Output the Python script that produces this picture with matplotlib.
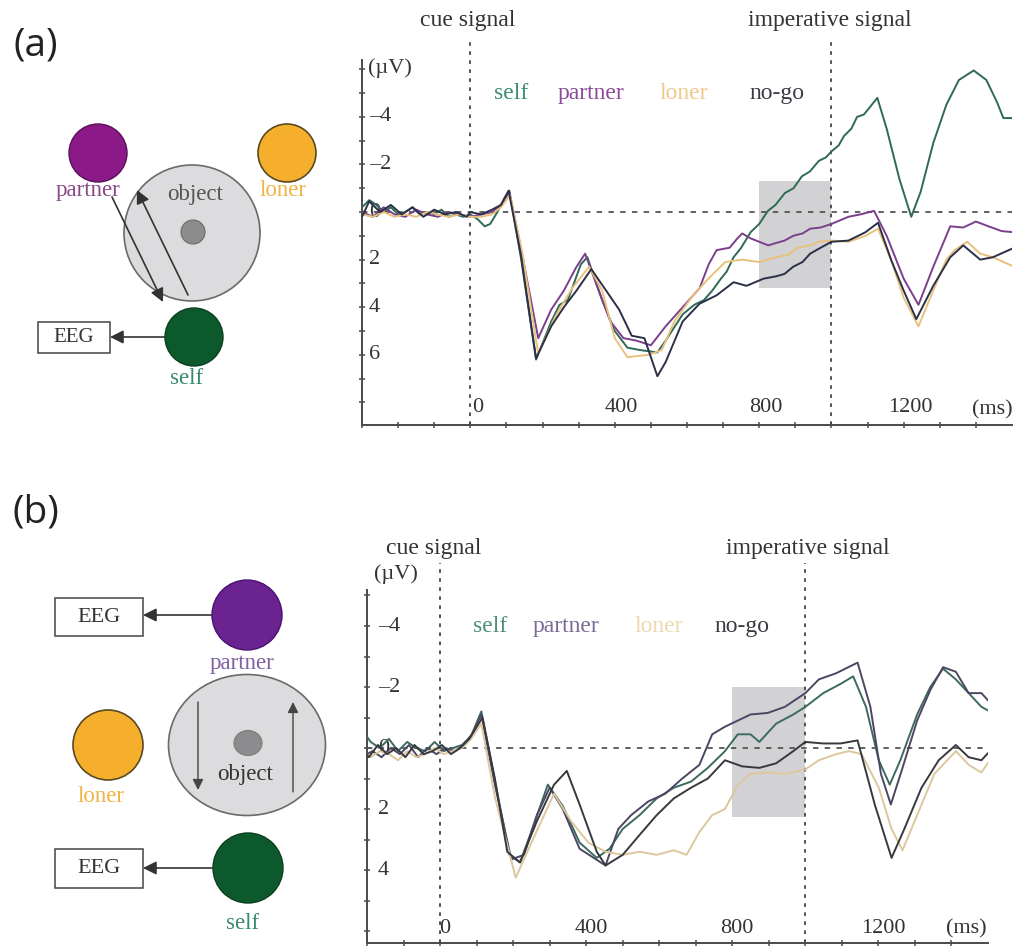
import matplotlib
matplotlib.use("Agg")
import matplotlib.pyplot as plt
import matplotlib.transforms as mtransforms
from matplotlib.patches import Circle, Ellipse, Rectangle

# ---------------- data : panel (a) ----------------
a_self_t = [-300, -280, -260, -240, -220, -200, -180, -160, -140, -120, -100, -80, -60, -40, -20, 0, 20, 40, 55, 75, 95, 108,
            141, 182, 224, 247, 270, 306, 324, 365, 400, 435, 470, 518, 541, 588, 620, 647, 670, 694, 710, 729, 750, 776, 800,
            824, 845, 871, 895, 918, 940, 965, 985, 1000, 1020, 1035, 1055, 1071, 1090, 1106, 1127, 1153, 1188, 1221, 1247,
            1282, 1318, 1353, 1394, 1429, 1459, 1476, 1506]
a_self_v = [-0.2, -0.5, -0.3, 0.0, -0.2, 0.1, 0.0, -0.2, 0.1, 0.0, 0.1, -0.1, 0.2, 0.1, 0.2, 0.1, 0.3, 0.6, 0.5, 0.0, -0.6, -0.9,
            2.0, 6.2, 4.6, 3.9, 3.7, 2.2, 1.9, 3.7, 5.0, 5.7, 5.8, 5.9, 5.4, 4.3, 3.9, 3.7, 3.3, 2.8, 2.5, 1.9, 1.5, 0.85, 0.5,
            -0.05, -0.3, -0.8, -1.0, -1.5, -1.7, -2.15, -2.3, -2.55, -2.8, -3.2, -3.5, -4.0, -4.1, -4.4, -4.8, -3.5, -1.4, 0.2, -0.85,
            -2.9, -4.5, -5.55, -5.95, -5.55, -4.6, -3.95, -3.95]

a_partner_t = [-300, -270, -240, -210, -180, -150, -120, -90, -60, -30, 0, 30, 60, 85, 108, 140, 188, 224, 259, 294, 318, 353,
               388, 424, 459, 500, 541, 588, 635, 660, 682, 718, 740, 753, 775, 800, 825, 847, 870, 894, 920, 941, 970, 1000,
               1047, 1080, 1118, 1153, 1200, 1241, 1282, 1329, 1365, 1400, 1435, 1471, 1506]
a_partner_v = [0.0, 0.2, -0.2, 0.1, 0.2, -0.1, 0.1, 0.2, 0.0, 0.1, 0.2, 0.1, 0.0, -0.3, -0.85, 1.5, 5.3, 4.1, 3.3, 2.3, 1.75, 3.2,
               4.6, 5.3, 5.4, 5.6, 4.8, 4.0, 3.2, 2.2, 1.6, 1.5, 1.1, 0.9, 1.1, 1.25, 1.4, 1.3, 1.2, 1.0, 0.9, 0.7, 0.65, 0.5,
               0.2, 0.1, -0.05, 1.0, 2.8, 3.9, 2.3, 0.6, 0.65, 0.4, 0.6, 0.8, 0.85]

a_loner_t = [-300, -270, -240, -210, -180, -150, -120, -90, -60, -30, 0, 30, 60, 85, 110, 145, 188, 235, 282, 329, 365, 400,
             435, 494, 530, 565, 612, 659, 706, 753, 800, 847, 880, 906, 940, 965, 1000, 1047, 1094, 1129, 1165, 1200, 1241,
             1282, 1318, 1341, 1376, 1412, 1447, 1506]
a_loner_v = [0.1, 0.2, 0.0, 0.2, 0.1, 0.2, 0.0, 0.1, 0.2, 0.1, 0.2, 0.2, 0.1, -0.2, -0.7, 1.8, 5.95, 4.4, 3.2, 2.3, 3.3, 5.3,
             6.1, 6.0, 5.8, 4.6, 3.6, 2.8, 2.1, 2.0, 2.1, 1.9, 1.8, 1.5, 1.4, 1.25, 1.2, 1.25, 1.0, 0.7, 2.0, 3.6, 4.8,
             3.3, 2.0, 1.6, 1.25, 1.75, 1.9, 2.3]

a_nogo_t = [-300, -280, -250, -220, -190, -160, -130, -100, -70, -40, -10, 0, 30, 60, 85, 106, 140, 182, 224, 259, 294, 335,
            376, 412, 447, 482, 518, 541, 588, 635, 682, 729, 765, 812, 847, 870, 894, 920, 941, 970, 1000, 1047, 1094, 1129,
            1165, 1200, 1235, 1282, 1329, 1365, 1412, 1447, 1506]
a_nogo_v = [0.2, -0.45, 0.0, -0.3, 0.1, -0.2, 0.2, -0.1, 0.1, 0.0, 0.2, 0.0, 0.1, -0.1, -0.3, -0.9, 1.8, 6.15, 4.8, 4.0, 3.3, 2.4,
            3.3, 4.1, 5.2, 5.3, 6.9, 6.3, 4.6, 3.85, 3.5, 2.95, 3.1, 2.8, 2.7, 2.6, 2.3, 2.1, 1.75, 1.5, 1.25, 1.2, 0.85, 0.45,
            2.0, 3.3, 4.5, 3.1, 1.9, 1.4, 2.0, 1.9, 1.5]

a_box = [800, 1000, -1.3, 3.2]

# ---------------- data : panel (b) ----------------
b_self_t = [-214, -190, -165, -140, -115, -90, -65, -40, -15, 10, 35, 60, 85, 113, 154, 190, 219, 254, 295, 336, 382, 429,
            464, 500, 546, 593, 640, 687, 733, 780, 815, 850, 874, 920, 967, 1000, 1049, 1096, 1131, 1166, 1201, 1231,
            1260, 1306, 1342, 1377, 1412, 1447, 1482, 1505]
b_self_v = [-0.6, -0.2, 0.0, -0.3, 0.1, -0.2, 0.0, 0.1, -0.2, 0.1, 0.0, -0.1, -0.4, -1.2, 1.3, 3.5, 3.75, 2.6, 1.2, 1.9, 3.1, 3.6,
            3.3, 2.65, 2.2, 1.65, 1.3, 1.1, 0.65, 0.1, -0.45, -0.45, -0.2, -0.8, -1.1, -1.35, -1.8, -2.1, -2.35, -1.35, 0.4, 1.2,
            0.4, -1.1, -2.0, -2.6, -2.25, -1.8, -1.35, -1.2]

b_partner_t = [-214, -185, -160, -135, -110, -85, -60, -35, -10, 15, 40, 65, 90, 113, 150, 195, 230, 265, 300, 336, 382, 453,
               488, 523, 570, 616, 663, 710, 745, 780, 815, 850, 897, 944, 1000, 1037, 1084, 1143, 1178, 1207, 1234, 1266,
               1306, 1342, 1377, 1412, 1447, 1482, 1505]
b_partner_v = [0.3, 0.1, 0.3, 0.0, 0.2, -0.1, 0.3, 0.0, 0.2, 0.0, 0.1, -0.1, -0.5, -1.1, 1.2, 3.65, 3.5, 2.2, 1.3, 2.0, 3.3, 3.85,
               2.65, 2.2, 1.75, 1.5, 1.0, 0.55, -0.45, -0.7, -0.9, -1.1, -1.15, -1.35, -1.8, -2.25, -2.45, -2.8, -1.35, 0.85, 1.85,
               0.65, -0.9, -1.9, -2.65, -2.5, -1.8, -1.8, -1.5]

b_loner_t = [-214, -190, -165, -140, -115, -90, -65, -40, -15, 10, 35, 60, 85, 113, 150, 207, 254, 312, 359, 406, 453, 500,
             546, 593, 640, 675, 710, 745, 780, 815, 850, 897, 944, 1000, 1037, 1084, 1119, 1154, 1201, 1236, 1266, 1306,
             1353, 1412, 1447, 1482, 1505]
b_loner_v = [0.1, 0.3, 0.1, 0.2, 0.4, 0.1, 0.3, 0.2, 0.0, 0.2, 0.1, 0.0, -0.3, -0.8, 1.6, 4.25, 3.0, 1.5, 2.4, 3.1, 3.4, 3.5,
             3.4, 3.5, 3.35, 3.5, 2.75, 2.2, 2.0, 1.2, 0.85, 0.8, 0.85, 0.7, 0.4, 0.2, 0.1, 0.2, 1.3, 2.65, 3.35, 2.2,
             0.85, 0.1, 0.55, 0.8, 0.4]

b_nogo_t = [-214, -195, -170, -145, -120, -95, -70, -45, -20, 5, 30, 55, 80, 116, 150, 184, 219, 265, 312, 347, 382, 429,
            453, 500, 546, 593, 640, 687, 733, 780, 827, 874, 920, 967, 1000, 1049, 1096, 1143, 1190, 1236, 1271, 1318,
            1365, 1412, 1447, 1482, 1505]
b_nogo_v = [0.0, 0.3, -0.1, 0.2, 0.0, 0.3, -0.1, 0.2, 0.1, -0.1, 0.2, 0.0, -0.3, -1.0, 1.0, 3.4, 3.75, 2.4, 1.2, 0.75, 1.85, 3.4,
            3.85, 3.5, 2.85, 2.2, 1.65, 1.3, 1.0, 0.4, 0.6, 0.65, 0.5, 0.1, -0.2, -0.15, -0.15, -0.25, 1.85, 3.6, 2.65, 1.3,
            0.4, -0.1, 0.3, 0.4, 0.1]

b_box = [800, 1000, -2.0, 2.25]

series_names = ["self", "partner", "loner", "no-go"]
x_tick_labels = [0, 400, 800, 1200]
cue_ms, imperative_ms = 0, 1000

# ---------------- styling ----------------
SERIF = ["Liberation Serif", "DejaVu Serif"]
a_colors = ["#2e6a55", "#7b3f8c", "#e8c27c", "#2b3048"]
a_text_colors = ["#3d8c73", "#8b4a98", "#f0c88a", "#3b3b45"]
b_colors = ["#3c6a5e", "#4d4663", "#dcc79e", "#38383f"]
b_text_colors = ["#4f8f78", "#7a6a95", "#eed8ae", "#3a3a40"]
AXC = "#4a4a4a"

fig = plt.figure(figsize=(10.18, 9.47), dpi=100)

# pixel-space overlay for diagrams and annotation text
axd = fig.add_axes([0, 0, 1, 1], zorder=0)
axd.set_xlim(0, 1018)
axd.set_ylim(947, 0)
axd.axis("off")


def style_plot(ax, xlim, ylim, yticks_lab, ytick_minor, xticks, xoff_px, yoff_px, ylab_px):
    ax.set_xlim(*xlim)
    ax.set_ylim(*ylim)
    ax.patch.set_alpha(0)
    for s in ["top", "right"]:
        ax.spines[s].set_visible(False)
    for s in ["left", "bottom"]:
        ax.spines[s].set_color(AXC)
        ax.spines[s].set_linewidth(1.4)
    ax.set_yticks(ytick_minor)
    ax.set_xticks(xticks)
    ax.tick_params(axis="both", direction="inout", length=5, width=1.1, color=AXC,
                   labelleft=False, labelbottom=False)
    # inside tick labels
    ty = mtransforms.blended_transform_factory(ax.transAxes, ax.transData)
    ty = mtransforms.offset_copy(ty, fig=fig, x=yoff_px, y=0, units="dots")
    for v in yticks_lab:
        s = "0" if v == 0 else ("\u2013%d" % abs(v) if v < 0 else "%d" % v)
        ax.text(0, v, s, transform=ty, ha="left", va="center", fontsize=16,
                family=SERIF, color="#333333")
    tx = mtransforms.blended_transform_factory(ax.transData, ax.transAxes)
    tx = mtransforms.offset_copy(tx, fig=fig, x=xoff_px, y=ylab_px, units="dots")
    for v in x_tick_labels:
        ax.text(v, 0, "%d" % v, transform=tx, ha="center", va="bottom", fontsize=16,
                family=SERIF, color="#333333")


def draw_panel(ax, data, colors, box, vext):
    x0, x1, y0, y1 = box
    ax.fill_between([x0, x1], [y0, y0], [y1, y1], color="#d2d2d4", lw=0, zorder=1)
    ax.axhline(0, color="#555555", lw=1.3, ls=(0, (3, 3.5)), zorder=2)
    for xv in (cue_ms, imperative_ms):
        ax.axvline(xv, ymin=0, ymax=vext, clip_on=False, color="#444444", lw=1.3,
                   ls=(0, (2, 3)), zorder=2)
    for (t, v), c in zip(data, colors):
        ax.plot(t, v, color=c, lw=1.4, zorder=3, solid_joinstyle="round")


# ---------------- panel (a) plot ----------------
axA = fig.add_axes([362 / 1018, (947 - 425) / 947, 650 / 1018, 365 / 947], zorder=2)
style_plot(axA, (-300, 1500), (8.95, -6.39), [-4, -2, 0, 2, 4, 6], list(range(-6, 9)),
           list(range(-300, 1500, 100)), 7, 7, 8)
draw_panel(axA, [(a_self_t, a_self_v), (a_partner_t, a_partner_v), (a_loner_t, a_loner_v),
                 (a_nogo_t, a_nogo_v)], a_colors, a_box, 1.05)

# ---------------- panel (b) plot ----------------
axB = fig.add_axes([367 / 1018, (947 - 943) / 947, 621 / 1018, 353 / 947], zorder=2)
style_plot(axB, (-200, 1500), (6.39, -5.18), [-4, -2, 0, 2, 4], list(range(-5, 7)),
           list(range(-200, 1500, 100)), 5, 11, 5)
draw_panel(axB, [(b_self_t, b_self_v), (b_partner_t, b_partner_v), (b_loner_t, b_loner_v),
                 (b_nogo_t, b_nogo_v)], b_colors, b_box, 1.076)

# ---------------- annotation texts ----------------
def txt(x, y, s, size=15, color="#333333", family=SERIF, **kw):
    axd.text(x, y, s, fontsize=size, color=color, family=family, ha="center", va="center", **kw)

txt(468, 20, "cue signal", 17)
txt(830, 20, "imperative signal", 17)
txt(390, 68, "(\u00b5V)", 16)
txt(992, 410, "(ms)", 16)
for name, c, x in zip(series_names, a_text_colors, [511, 591, 684, 777]):
    txt(x, 93, name, 17, c)

txt(434, 548, "cue signal", 17)
txt(808, 548, "imperative signal", 17)
txt(396, 574, "(\u00b5V)", 16)
txt(966, 929, "(ms)", 16)
for name, c, x in zip(series_names, b_text_colors, [490, 566, 659, 742]):
    txt(x, 626, name, 17, c)

# panel labels
SANS = ["Open Sans", "DejaVu Sans"]
txt(36, 45, "(a)", 28, "#222222", SANS)
txt(36, 512, "(b)", 28, "#222222", SANS)

# ---------------- diagram (a) ----------------
PURPLE_A = "#8b1a88"
PURPLE_B = "#6a2391"
ORANGE = "#f6ae2d"
GREEN = "#0c5a2c"
axd.add_patch(Circle((192, 233), 68, fc="#dcdcde", ec="#6a6a6a", lw=1.2, zorder=1))
axd.add_patch(Circle((193, 232), 12, fc="#8c8c8e", ec="#6a6a6a", lw=0.8, zorder=2))
axd.add_patch(Circle((98, 153), 29, fc=PURPLE_A, ec="#5a1058", lw=1.0, zorder=2))
axd.add_patch(Circle((287, 153), 29, fc=ORANGE, ec="#5a4a20", lw=1.2, zorder=2))
axd.add_patch(Circle((194, 337), 29, fc=GREEN, ec="#0a4020", lw=1.0, zorder=2))
txt(88, 190, "partner", 16.5, "#8a4a8a")
txt(283, 190, "loner", 16.5, "#f0b445")
txt(195, 194, "object", 16.5, "#555555")
txt(187, 378, "self", 16.5, "#3a8a70")
axd.add_patch(Rectangle((38, 322), 72, 31, fc="white", ec="#444444", lw=1.1, zorder=2))
txt(74, 337.5, "EEG", 15, "#333333")
arrow_kw = dict(arrowstyle="-|>", color="#333333", lw=1.2, mutation_scale=20, shrinkA=0, shrinkB=0)
axd.annotate("", xy=(163, 302), xytext=(112, 197), arrowprops=arrow_kw, zorder=3)
axd.annotate("", xy=(137, 190), xytext=(188, 295), arrowprops=arrow_kw, zorder=3)
axd.annotate("", xy=(110, 337), xytext=(165, 337), arrowprops=arrow_kw, zorder=3)

# ---------------- diagram (b) ----------------
axd.add_patch(Ellipse((247, 745), 157, 141, fc="#dcdcde", ec="#6a6a6a", lw=1.2, zorder=1))
axd.add_patch(Ellipse((248, 743), 28, 25, fc="#8c8c8e", ec="#7a7a7a", lw=0.8, zorder=2))
axd.add_patch(Circle((247, 615), 35, fc=PURPLE_B, ec="#4a1070", lw=1.0, zorder=2))
axd.add_patch(Circle((108, 745), 35, fc=ORANGE, ec="#5a4a20", lw=1.2, zorder=2))
axd.add_patch(Circle((248, 868), 35, fc=GREEN, ec="#0a4020", lw=1.0, zorder=2))
txt(242, 663, "partner", 16.5, "#8060a0")
txt(101, 796, "loner", 16.5, "#f0b445")
txt(245, 774, "object", 16.5, "#333333")
txt(243, 923, "self", 16.5, "#3a8a70")
axd.add_patch(Rectangle((55, 598), 88, 38, fc="white", ec="#444444", lw=1.1, zorder=2))
txt(99, 617.5, "EEG", 16, "#333333")
axd.add_patch(Rectangle((55, 849), 88, 39, fc="white", ec="#444444", lw=1.1, zorder=2))
txt(99, 868.5, "EEG", 16, "#333333")
axd.annotate("", xy=(143, 615), xytext=(212, 615), arrowprops=arrow_kw, zorder=3)
axd.annotate("", xy=(143, 868), xytext=(213, 868), arrowprops=arrow_kw, zorder=3)
arrow_kw2 = dict(arrowstyle="-|>", color="#444444", lw=1.0, mutation_scale=16, shrinkA=0, shrinkB=0)
axd.annotate("", xy=(198, 790), xytext=(198, 702), arrowprops=arrow_kw2, zorder=3)
axd.annotate("", xy=(293, 702), xytext=(293, 792), arrowprops=arrow_kw2, zorder=3)

fig.savefig("out.png", dpi=100)
